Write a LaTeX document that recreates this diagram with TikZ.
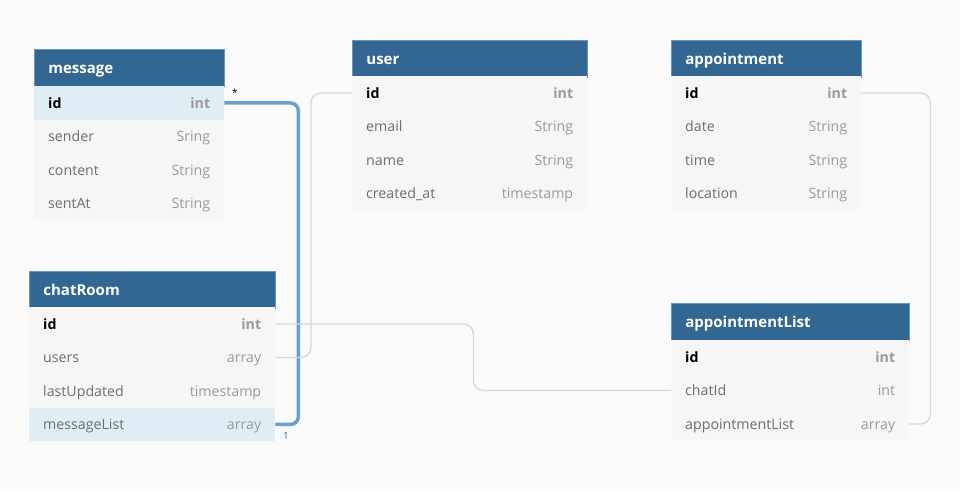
\documentclass[tikz,border=0pt]{standalone}
\usepackage{fontspec}
\setmainfont{Open Sans}
\usepackage{tikz}
\usetikzlibrary{positioning}

\definecolor{hdrblue}{HTML}{336793}
\definecolor{hdredge}{HTML}{6F95B5}
\definecolor{rowgray}{HTML}{F6F6F6}
\definecolor{rowhl}{HTML}{DFEDF5}
\definecolor{namegray}{HTML}{6E6E6E}
\definecolor{typegray}{HTML}{9A9A9A}
\definecolor{linkblue}{HTML}{6AA0CF}
\definecolor{linkgray}{HTML}{D6D6D6}
\definecolor{bggray}{HTML}{FAFAFA}

\newcommand{\keytype}[1]{{\bfseries\color{typegray}#1}}

\begin{document}
\begin{tikzpicture}[x=1pt, y=-1pt,
  every node/.style={anchor=north west, inner xsep=14pt, inner ysep=0pt, align=left, text height=12.5pt, text depth=1.5pt},
  hdr/.style={fill=hdrblue, draw=hdredge, line width=0.8pt, text=white, font=\bfseries\fontsize{15}{17}\selectfont, minimum height=36.5pt},
  row/.style={fill=rowgray, text=namegray, font=\fontsize{14.2}{17}\selectfont, minimum height=33.5pt},
  hlrow/.style={row, fill=rowhl},
  keyrow/.style={row, text=black, font=\bfseries\fontsize{14.2}{17}\selectfont},
  graylink/.style={draw=linkgray, line width=1.3pt, rounded corners=10pt},
  bluelink/.style={draw=linkblue, line width=3.5pt, rounded corners=8pt}]
\fill[bggray] (0,0) rectangle (960,491);
\useasboundingbox (0,0) rectangle (960,491);

% message
\node[hdr, text width=162pt] (msg) at (34,49) {message};
\node[keyrow, fill=rowhl, text width=162pt] (msg-0) at (34,86) {id\hfill\keytype{int}};
\foreach \nm/\ty [count=\i] in {sender/Sring, content/String, sentAt/String}
  \node[row, text width=162pt] (msg-\i) at (34,{86+\i*33.5}) {\nm\hfill{\color{typegray}\ty}};

% user
\node[hdr, text width=207pt] (usr) at (352,40) {user};
\node[keyrow, text width=207pt] (usr-0) at (352,76) {id\hfill\keytype{int}};
\foreach \nm/\ty [count=\i] in {email/String, name/String, created\_at/timestamp}
  \node[row, text width=207pt] (usr-\i) at (352,{76+\i*33.5}) {\nm\hfill{\color{typegray}\ty}};

% appointment
\node[hdr, text width=162pt] (apt) at (671,40) {appointment};
\node[keyrow, text width=162pt] (apt-0) at (671,76) {id\hfill\keytype{int}};
\foreach \nm/\ty [count=\i] in {date/String, time/String, location/String}
  \node[row, text width=162pt] (apt-\i) at (671,{76+\i*33.5}) {\nm\hfill{\color{typegray}\ty}};

% chatRoom
\node[hdr, text width=218pt] (chat) at (29,271) {chatRoom};
\node[keyrow, text width=218pt] (chat-0) at (29,307) {id\hfill\keytype{int}};
\foreach \nm/\ty/\st [count=\i] in {users/array/row, lastUpdated/timestamp/row, messageList/array/hlrow}
  \node[\st, text width=218pt] (chat-\i) at (29,{307+\i*33.5}) {\nm\hfill{\color{typegray}\ty}};

% appointmentList
\node[hdr, text width=210pt] (apl) at (671,303) {appointmentList};
\node[keyrow, text width=210pt] (apl-0) at (671,340) {id\hfill\keytype{int}};
\foreach \nm/\ty [count=\i] in {chatId/int, appointmentList/array}
  \node[row, text width=210pt] (apl-\i) at (671,{340+\i*33.5}) {\nm\hfill{\color{typegray}\ty}};

% links
\draw[bluelink] (msg-0.east) -- ++(74,0) |- (chat-3.east);
\draw[graylink] (usr-0.west) -- ++(-41,0) |- (chat-1.east);
\draw[graylink] (chat-0.east) -- ++(198,0) |- (apl-1.west);
\draw[graylink] (apt-0.east) -- ++(69,0) |- (apl-2.east);

\node[anchor=center, inner sep=0pt, text height=, text depth=, font=\fontsize{10}{12}\selectfont] (star) at (235,93) {*};
\node[anchor=center, inner sep=0pt, text height=, text depth=, text=hdrblue, font=\fontsize{10}{12}\selectfont] (one) at (286,436) {1};
\end{tikzpicture}
\end{document}
